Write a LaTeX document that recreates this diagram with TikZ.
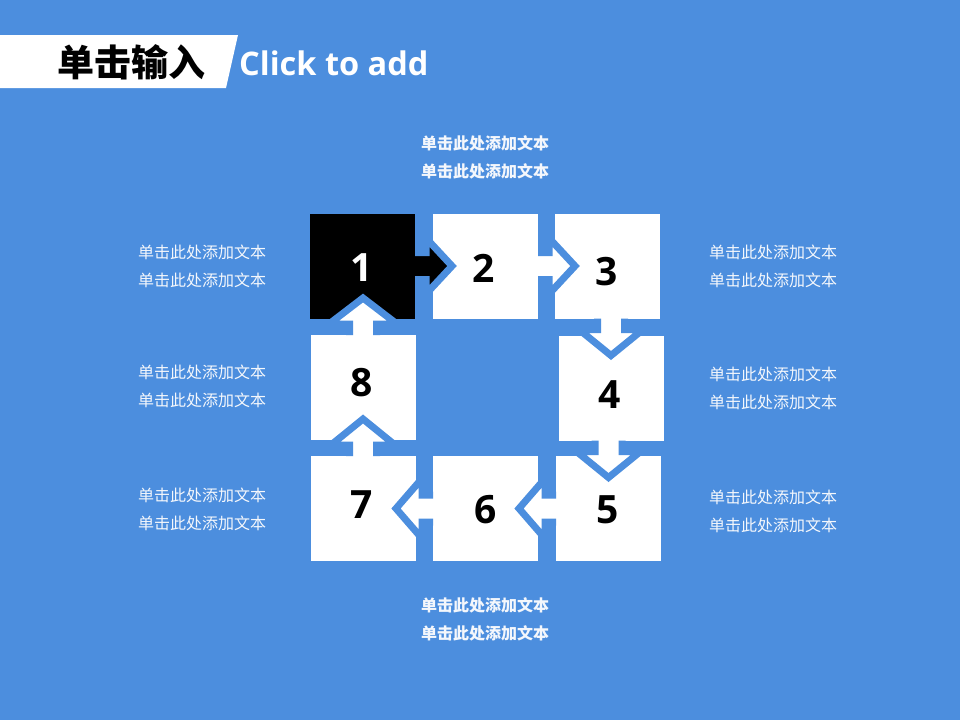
\documentclass[tikz,border=0pt]{standalone}
\usepackage{fontspec}
\newfontfamily\cjk{Noto Sans CJK SC}
\newfontfamily\latinb{Open Sans}
\definecolor{bgblue}{HTML}{4C8EDE}
\definecolor{txtwhite}{HTML}{F4F7FC}
\tikzset{
  box/.style={rectangle, inner sep=0pt, outer sep=0pt, minimum width=105pt, minimum height=105pt},
  whitebox/.style={box, fill=white},
  blackbox/.style={box, fill=black},
  numlabel/.style={inner sep=0pt, font=\latinb\bfseries\fontsize{39}{39}\selectfont},
  arrowline/.style={draw=bgblue, line width=7pt, line join=miter, miter limit=10},
  caption/.style={inner sep=0pt, align=center, text=txtwhite, font=\cjk\fontsize{16}{28}\selectfont},
  captionb/.style={caption, font=\cjk\bfseries\fontsize{16}{28}\selectfont}
}
% #1 start point, #2 rotation, #3 fill colour, #4 head half-width
\newcommand\flowarrow[4]{%
  \begin{scope}[shift={(#1)}, rotate=#2]
    \fill[#3] (-10,-13.5) -- (11,-13.5) -- (11,-#4) -- (37,0) -- (11,#4) -- (11,13.5) -- (-10,13.5) -- cycle;
    \draw[arrowline] (0,-13.5) -- (11,-13.5) -- (11,-#4) -- (37,0) -- (11,#4) -- (11,13.5) -- (0,13.5);
  \end{scope}}
\begin{document}
\begin{tikzpicture}[x=1pt,y=-1pt]
  \useasboundingbox (0,0) rectangle (960,720);
  \fill[bgblue] (0,0) rectangle (960,720);
  % title banner
  \fill[white] (0,35) -- (238,35) -- (226,88) -- (0,88) -- cycle;
  \node[inner sep=0pt, font=\cjk\bfseries\fontsize{37}{37}\selectfont] (title) at (131,62) {单击输入};
  \node[inner sep=0pt, anchor=west, text=white, font=\latinb\bfseries\fontsize{32.5}{32.5}\selectfont] (sub) at (239,63) {Click to add};
  % boxes
  \node[blackbox] (b1) at (362.5,266) {};
  \node[whitebox] (b2) at (485.5,266) {};
  \node[whitebox] (b3) at (607.5,266) {};
  \node[whitebox] (b4) at (611,388) {};
  \node[whitebox] (b5) at (608.5,508.5) {};
  \node[whitebox] (b6) at (485.5,508.5) {};
  \node[whitebox] (b7) at (363,508.5) {};
  \node[whitebox] (b8) at (363,387.5) {};
  % arrows
  \flowarrow{b1.east}{0}{black}{28}
  \flowarrow{b2.east}{0}{white}{28}
  \flowarrow{b4.north |- b3.south}{-90}{white}{32}
  \flowarrow{b5.north |- b4.south}{-90}{white}{32}
  \flowarrow{b5.west}{180}{white}{30}
  \flowarrow{b6.west}{180}{white}{30}
  \flowarrow{b7.north}{90}{white}{32}
  \flowarrow{b8.north}{90}{white}{34}
  % numbers
  \node[numlabel, text=white] (n1) at (362,268) {1};
  \node[numlabel] (n2) at (484,268) {2};
  \node[numlabel] (n3) at (607,272) {3};
  \node[numlabel] (n4) at (610,395) {4};
  \node[numlabel] (n5) at (608,510) {5};
  \node[numlabel] (n6) at (486,510) {6};
  \node[numlabel] (n7) at (362,505) {7};
  \node[numlabel] (n8) at (362,383) {8};
  % captions
  \node[captionb] (ctop) at (485,157) {单击此处添加文本\\单击此处添加文本};
  \node[captionb] (cbot) at (485,619) {单击此处添加文本\\单击此处添加文本};
  \node[caption] (cl1) at (202,266) {单击此处添加文本\\单击此处添加文本};
  \node[caption] (cl2) at (202,386) {单击此处添加文本\\单击此处添加文本};
  \node[caption] (cl3) at (202,509) {单击此处添加文本\\单击此处添加文本};
  \node[caption] (cr1) at (773,266) {单击此处添加文本\\单击此处添加文本};
  \node[caption] (cr2) at (773,388) {单击此处添加文本\\单击此处添加文本};
  \node[caption] (cr3) at (773,511) {单击此处添加文本\\单击此处添加文本};
\end{tikzpicture}
\end{document}
